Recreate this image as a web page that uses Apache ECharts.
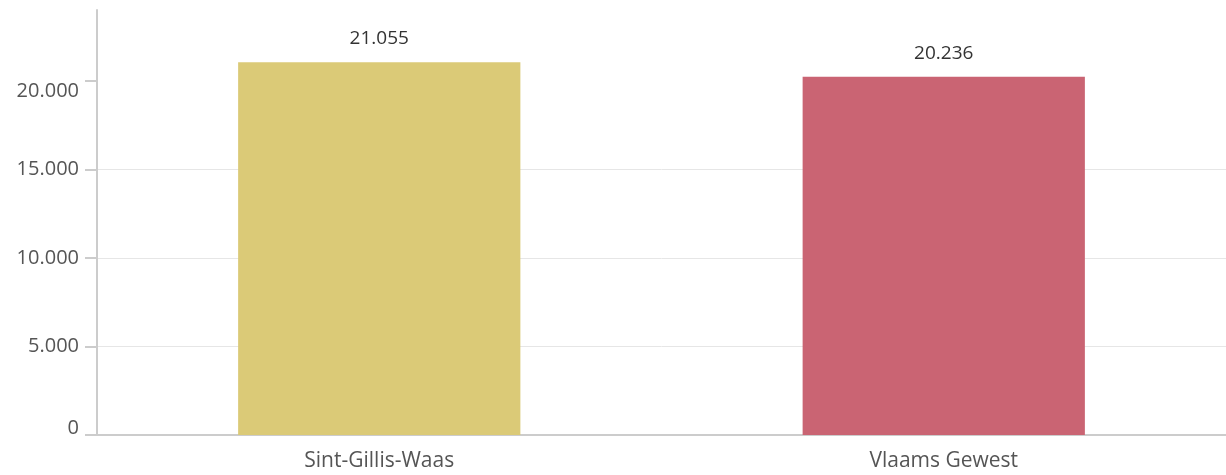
<!DOCTYPE html>
<html>
<head>
  <meta charset="utf-8">
  <script src="https://cdn.jsdelivr.net/npm/echarts@6/dist/echarts.min.js"></script>
</head>
<body style="margin:0;">
  <div id="id_chart" style="width:1226px;height:475px;"></div>

  <script type="text/javascript">
    // gegevens
    var categories = ['Sint-Gillis-Waas', 'Vlaams Gewest'];
    var values = [21055, 20236];
    var barColors = ['#dbca77', '#ca6473'];
    var tickValues = [0, 5000, 10000, 15000, 20000];

    // 20000 -> "20.000"
    function fmt(v) {
      return String(Math.round(v)).replace(/\B(?=(\d{3})+(?!\d))/g, '.');
    }

    var myChart = echarts.init(document.getElementById('id_chart'));
    var font = '"Open Sans", sans-serif';

    var option = {
      animation: false,
      grid: { left: 97, right: 0, top: 10, bottom: 40 },
      xAxis: {
        type: 'category',
        data: categories,
        axisLine: { lineStyle: { color: '#cccccc', width: 2 } },
        axisTick: { show: false },
        axisLabel: { color: '#555555', fontSize: 21, fontFamily: font, margin: 16 }
      },
      yAxis: {
        type: 'value',
        min: 0,
        max: 24000,
        interval: 5000,
        axisLine: { show: true, lineStyle: { color: '#cccccc', width: 2 } },
        axisTick: {
          show: true,
          length: 12,
          customValues: tickValues,
          lineStyle: { color: '#cccccc', width: 2 }
        },
        axisLabel: {
          color: '#555555',
          fontSize: 20,
          fontFamily: font,
          margin: 18,
          showMaxLabel: false,
          formatter: function (v) {
            // bovenste label iets lager, nul iets hoger (zoals het origineel)
            if (v === 20000) return '{lo|' + fmt(v) + '}';
            if (v === 0) return '{hi|' + fmt(v) + '}';
            return fmt(v);
          },
          rich: {
            lo: { fontSize: 20, fontFamily: font, color: '#555555', padding: [20, 0, 0, 0] },
            hi: { fontSize: 20, fontFamily: font, color: '#555555', padding: [0, 0, 14, 0] }
          }
        },
        splitLine: {
          showMaxLine: false,
          lineStyle: { color: '#e6e6e6', width: 1 }
        }
      },
      series: [{
        type: 'bar',
        barWidth: '50%',
        data: values.map(function (v, i) {
          return { value: v, itemStyle: { color: barColors[i] } };
        }),
        label: {
          show: true,
          position: 'top',
          distance: 14,
          color: '#333333',
          fontSize: 19,
          fontFamily: font,
          formatter: function (p) { return fmt(p.value); }
        }
      }]
    };
    myChart.setOption(option);
  </script>
</body>
</html>
